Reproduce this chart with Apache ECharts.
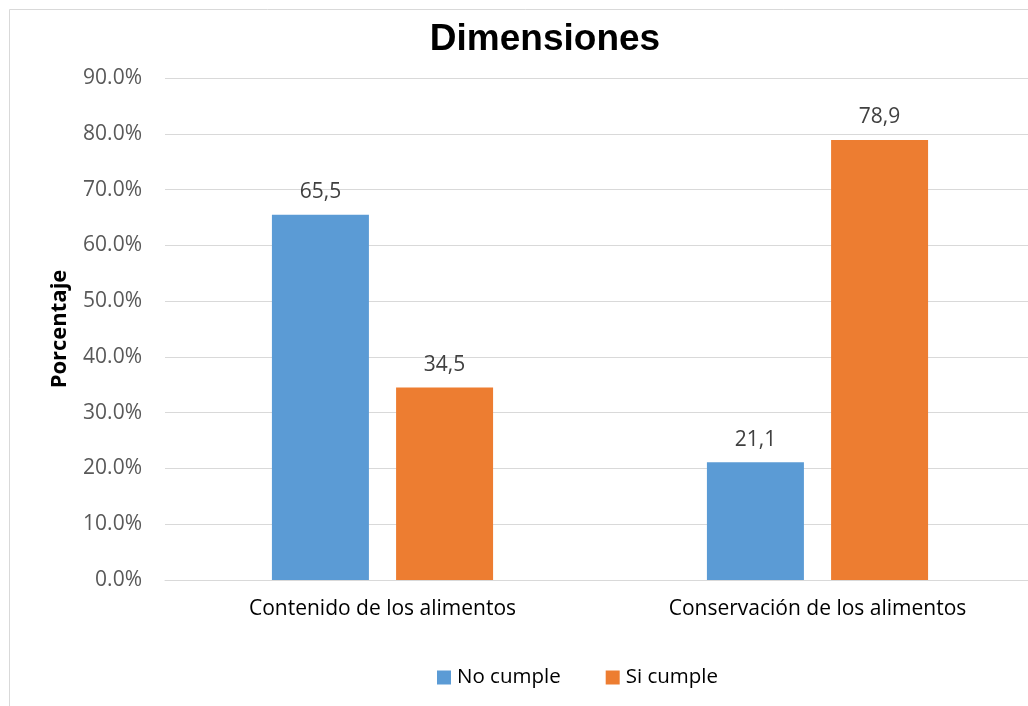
<!DOCTYPE html>
<html>
<head>
<meta charset="utf-8">
<script src="https://cdn.jsdelivr.net/npm/echarts@6/dist/echarts.min.js"></script>
<style>html,body{margin:0;padding:0;background:#fff;overflow:hidden;}#c{width:1040px;height:706px;}</style>
</head>
<body>
<div id="c"></div>
<script>
const categories = ['Contenido de los alimentos', 'Conservación de los alimentos'];
const noCumple = [65.5, 21.1];
const siCumple = [34.5, 78.9];
const seriesNames = ['No cumple', 'Si cumple'];
const yTicks = [0, 10, 20, 30, 40, 50, 60, 70, 80, 90];

const chart = echarts.init(document.getElementById('c'), null, {renderer: 'canvas'});
const labelFont = '"Open Sans", sans-serif';
const dataLabel = {
  show: true, position: 'top', distance: 12,
  color: '#404040', fontSize: 21, fontFamily: labelFont,
  formatter: p => p.value.toFixed(1).replace('.', ',')
};
chart.setOption({
  animation: false,
  backgroundColor: '#fff',
  graphic: [{
    type: 'rect', shape: {x: 9.5, y: 9.5, width: 1040, height: 720},
    style: {fill: 'none', stroke: '#D9D9D9', lineWidth: 1}, silent: true, z: -1
  }],
  title: {
    text: 'Dimensiones', left: 540, textAlign: 'center', top: 16,
    textStyle: {fontFamily: '"Liberation Sans", Arial, sans-serif', fontWeight: 'bold', fontSize: 37, color: '#000'}
  },
  legend: {
    data: seriesNames, left: 432, top: 662, itemWidth: 14, itemHeight: 14, itemGap: 45,
    icon: 'rect',
    textStyle: {fontFamily: labelFont, fontSize: 20.5, color: '#000', padding: [0, 0, 0, 1]}
  },
  grid: {left: 165, width: 870, top: 78, bottom: 126, containLabel: false},
  xAxis: {
    type: 'category', data: categories,
    axisLine: {lineStyle: {color: '#D9D9D9', width: 1}},
    axisTick: {show: false},
    axisLabel: {color: '#000', fontSize: 21, fontFamily: labelFont, margin: 19}
  },
  yAxis: {
    type: 'value', min: yTicks[0], max: yTicks[yTicks.length - 1], interval: 10,
    name: 'Porcentaje', nameLocation: 'middle', nameGap: 94, nameRotate: 90,
    nameTextStyle: {fontFamily: labelFont, fontWeight: 'bold', fontSize: 22, color: '#000'},
    axisLine: {show: false}, axisTick: {show: false},
    splitLine: {lineStyle: {color: '#D9D9D9', width: 1}},
    axisLabel: {color: '#595959', fontSize: 21, fontFamily: labelFont, margin: 23,
      formatter: v => v.toFixed(1) + '%'}
  },
  series: [
    {name: seriesNames[0], type: 'bar', data: noCumple, barWidth: 97, barGap: '28%',
     itemStyle: {color: '#5B9BD5'}, label: dataLabel},
    {name: seriesNames[1], type: 'bar', data: siCumple, barWidth: 97,
     itemStyle: {color: '#ED7D31'}, label: dataLabel}
  ]
});
</script>
</body>
</html>
